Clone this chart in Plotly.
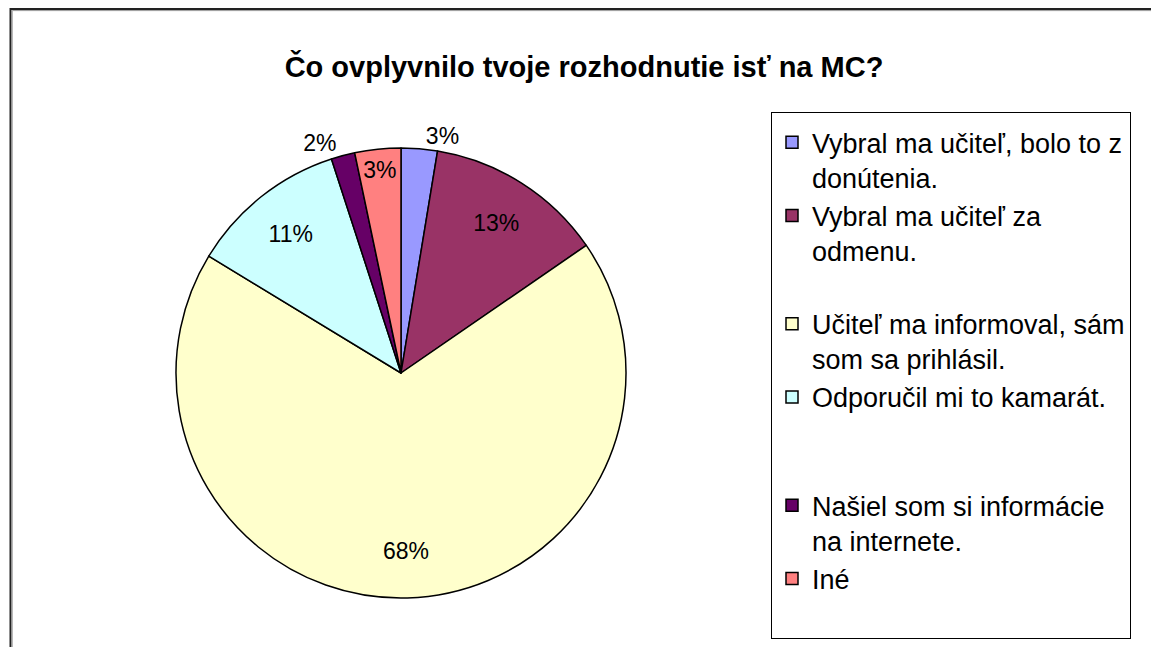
import plotly.graph_objects as go

title_text = "Čo ovplyvnilo tvoje rozhodnutie isť na MC?"
labels = [
    "Vybral ma učiteľ, bolo to z<br>donútenia.",
    "Vybral ma učiteľ za<br>odmenu.<br> ",
    "Učiteľ ma informoval, sám<br>som sa prihlásil.",
    "Odporučil mi to kamarát.<br> <br> ",
    "Našiel som si informácie<br>na internete.",
    "Iné<br> ",
]
values = [2.6, 12.8, 68.3, 11.3, 1.7, 3.3]
colors = ["#9999FF", "#993366", "#FFFFCC", "#CCFFFF", "#660066", "#FF8080"]
text_positions = ["outside", "inside", "inside", "inside", "outside", "inside"]

W, H = 1159, 647
OFF = 8  # page body margin
cx, cy, r = 401 - OFF, 373 - OFF, 225
FONT = "Arial, Liberation Sans, sans-serif"

domain = dict(x=[(cx - r) / W, (cx + r) / W], y=[1 - (cy + r) / H, 1 - (cy - r) / H])

# slices
pie = go.Pie(
    labels=labels,
    values=values,
    sort=False,
    direction="clockwise",
    rotation=0,
    marker=dict(colors=colors, line=dict(color="black", width=1.5)),
    textinfo="none",
    domain=domain,
    hoverinfo="label+percent",
)

# percentage labels, placed in an outer ring of the same pie
ring = go.Pie(
    labels=labels,
    values=values,
    sort=False,
    direction="clockwise",
    rotation=0,
    hole=0.58,
    marker=dict(colors=["rgba(0,0,0,0)"] * len(values), line=dict(width=0)),
    texttemplate="%{percent:.0%}",
    textposition=text_positions,
    insidetextorientation="horizontal",
    textfont=dict(family=FONT, size=23, color="black"),
    domain=domain,
    showlegend=False,
    hoverinfo="skip",
)

fig = go.Figure([pie, ring])

fig.update_layout(
    width=W, height=H,
    margin=dict(l=0, r=0, t=0, b=0),
    paper_bgcolor="white",
    plot_bgcolor="white",
    font=dict(family=FONT, color="black"),
    title=dict(text="<b>" + title_text + "</b>", x=(584 - OFF) / W, xanchor="center",
               y=1 - (67 - OFF) / H, yanchor="middle",
               font=dict(size=29, family=FONT, color="black")),
    legend=dict(
        x=(771 - OFF) / W, xanchor="left", y=1 - (112 - OFF) / H, yanchor="top",
        bordercolor="black", borderwidth=1,
        font=dict(size=27, family=FONT, color="black"),
        valign="top",
        bgcolor="white",
        title=dict(text=" ", font=dict(size=4)),
    ),
    showlegend=True,
    shapes=[
        dict(type="rect", xref="paper", yref="paper",
             x0=2.5 / W, x1=1.05, y0=-0.05, y1=1 - 1 / H,
             line=dict(color="#222222", width=2)),
        dict(type="rect", xref="paper", yref="paper",
             x0=4.2 / W, x1=1.05, y0=-0.05, y1=1 - 2.6 / H,
             line=dict(color="#999999", width=1)),
    ],
)

fig.write_html("out.html")
